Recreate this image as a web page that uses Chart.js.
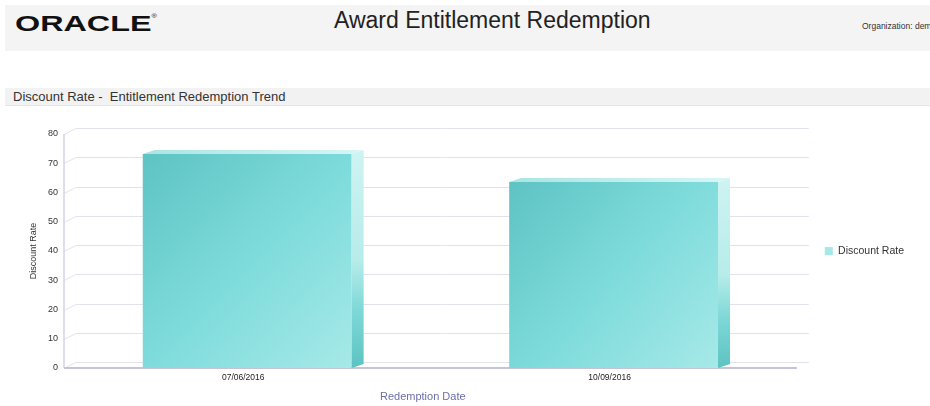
<!DOCTYPE html>
<html>
<head>
<meta charset="utf-8">
<title>Award Entitlement Redemption</title>
<script src="https://cdn.jsdelivr.net/npm/chart.js@4.4.0/dist/chart.umd.min.js"></script>
<style>
  html, body { margin: 0; padding: 0; background: #fff; }
  body { width: 930px; height: 406px; overflow: hidden; position: relative; font-family: "Liberation Sans", Arial, sans-serif; color: #333; }
  .topbar { position: absolute; left: 5px; top: 5px; width: 925px; height: 46px; background: #f4f4f4; }
  .logo { position: absolute; left: 10px; top: 6px; font: bold 22px "Liberation Sans", Arial, sans-serif; color: #111; transform: scaleX(1.47); transform-origin: 0 0; white-space: nowrap; }
  .logo sup { font-size: 5px; font-weight: normal; vertical-align: 13px; }
  .title { position: absolute; left: 334px; top: 7px; font-size: 23px; color: #222; white-space: nowrap; }
  .org { position: absolute; left: 862px; top: 21px; font-size: 8.5px; color: #333; white-space: nowrap; }
  .section { position: absolute; left: 5px; top: 88px; width: 925px; height: 17px; background: #f2f2f2; border-bottom: 1px solid #e6e6e6; }
  .section span { position: absolute; left: 8px; top: 1px; font-size: 13px; color: #333; white-space: pre; }
  #chartBox { position: absolute; left: 0; top: 110px; width: 930px; height: 296px; }
</style>
</head>
<body>
<div class="topbar">
  <div class="logo">ORACLE<sup>®</sup></div>
</div>
<div class="title">Award Entitlement Redemption</div>
<div class="org">Organization: demo</div>
<div class="section"><span>Discount Rate -  Entitlement Redemption Trend</span></div>
<div id="chartBox"><canvas id="rateChart" width="930" height="296"></canvas></div>

<script>
// redemption dates and discount rate per date
const dates = ['07/06/2016', '10/09/2016'];
const discountRate = [73.2, 63.6];
const yTicks = [0, 10, 20, 30, 40, 50, 60, 70, 80];

const BAR_PCT = 0.57;
const DEPTH_X = 12;   // horizontal depth of the 3d box
const WALL_DY = -6;   // rise of the back wall gridlines
const BAR_DY = -4;    // rise of the bar top / side faces
const FLAT_TEAL = '#72d6d5';

// fake 3d: back wall grid, front axes, bar side and top faces
const plot3d = {
  id: 'plot3d',
  beforeDatasetsDraw(chart) {
    const { ctx, chartArea: { left, right }, scales: { y } } = chart;
    ctx.save();
    ctx.lineWidth = 1;
    ctx.strokeStyle = '#e2e2ec';
    yTicks.forEach(v => {
      const py = Math.round(y.getPixelForValue(v)) + 0.5;
      ctx.beginPath();
      ctx.moveTo(left, py);
      ctx.lineTo(left + DEPTH_X, py + WALL_DY);
      ctx.lineTo(right + DEPTH_X, py + WALL_DY);
      ctx.stroke();
    });
    const y0 = y.getPixelForValue(0);
    const yTop = y.getPixelForValue(yTicks[yTicks.length - 1]);
    ctx.strokeStyle = '#d2d2e4';
    ctx.lineWidth = 1.5;
    ctx.beginPath();
    ctx.moveTo(left, yTop);
    ctx.lineTo(left, y0);
    ctx.stroke();
    ctx.strokeStyle = '#c3c3dc';
    ctx.lineWidth = 2;
    ctx.beginPath();
    ctx.moveTo(left, y0);
    ctx.lineTo(right, y0);
    ctx.stroke();
    ctx.restore();
  },
  afterDatasetsDraw(chart) {
    const { ctx } = chart;
    const meta = chart.getDatasetMeta(0);
    ctx.save();
    meta.data.forEach(bar => {
      const { x, y, base, width } = bar.getProps(['x', 'y', 'base', 'width'], true);
      const xl = x - width / 2;
      const xr = x + width / 2;

      // side face
      let g = ctx.createLinearGradient(0, y, 0, base);
      g.addColorStop(0, '#cdf3f2');
      g.addColorStop(0.5, '#b6ecea');
      g.addColorStop(0.72, '#80d9d8');
      g.addColorStop(1, '#5cc3c2');
      ctx.fillStyle = g;
      ctx.beginPath();
      ctx.moveTo(xr, y);
      ctx.lineTo(xr + DEPTH_X, y + BAR_DY);
      ctx.lineTo(xr + DEPTH_X, base + BAR_DY);
      ctx.lineTo(xr, base);
      ctx.closePath();
      ctx.fill();

      // top face
      g = ctx.createLinearGradient(xl, 0, xr + DEPTH_X, 0);
      g.addColorStop(0, '#a8e5e4');
      g.addColorStop(1, '#d8f6f5');
      ctx.fillStyle = g;
      ctx.beginPath();
      ctx.moveTo(xl, y);
      ctx.lineTo(xl + DEPTH_X, y + BAR_DY);
      ctx.lineTo(xr + DEPTH_X, y + BAR_DY);
      ctx.lineTo(xr, y);
      ctx.closePath();
      ctx.fill();
    });
    ctx.restore();
  }
};

// diagonal gradient on the front face of each bar
function frontFace(c) {
  const chart = c.chart;
  const { x, y } = chart.scales;
  if (c.type !== 'data' || !x || !y) return FLAT_TEAL;
  const cx = x.getPixelForValue(c.dataIndex);
  const half = x.width / dates.length * BAR_PCT / 2;
  const top = y.getPixelForValue(c.raw);
  const bottom = y.getPixelForValue(0);
  if (![cx, half, top, bottom].every(Number.isFinite)) return FLAT_TEAL;
  const g = chart.ctx.createLinearGradient(cx - half, top, cx + half, bottom);
  g.addColorStop(0, '#5ec3c3');
  g.addColorStop(0.5, '#7edbdb');
  g.addColorStop(1, '#a6e9e8');
  return g;
}

Chart.defaults.font.family = '"Liberation Sans", Arial, sans-serif';
Chart.defaults.color = '#333';

new Chart(document.getElementById('rateChart'), {
  type: 'bar',
  data: {
    labels: dates,
    datasets: [{
      label: 'Discount Rate',
      data: discountRate,
      backgroundColor: frontFace,
      borderWidth: 0,
      barPercentage: BAR_PCT,
      categoryPercentage: 1
    }]
  },
  options: {
    responsive: false,
    animation: false,
    devicePixelRatio: 1,
    layout: { padding: { top: 24, right: 16, bottom: 0, left: 0 } },
    plugins: {
      legend: {
        position: 'right',
        fullSize: false,
        labels: {
          boxWidth: 8,
          boxHeight: 8,
          padding: 28,
          color: '#333',
          font: { size: 10.5 }
        }
      },
      tooltip: { enabled: false }
    },
    scales: {
      x: {
        grid: { display: false, drawTicks: false },
        border: { display: false },
        ticks: { padding: 5, labelOffset: -4, color: '#222', font: { size: 8.5 } },
        title: {
          display: true,
          // trailing spaces nudge the centred title a little to the left
          text: 'Redemption Date     ',
          color: '#6c70a8',
          font: { size: 11 },
          padding: { top: 0, bottom: 2 }
        },
        afterFit(s) { s.height = 38; }
      },
      y: {
        min: 0,
        max: 80,
        grid: { display: false, drawTicks: false },
        border: { display: false },
        ticks: { stepSize: 10, padding: 6, color: '#333', font: { size: 9 } },
        title: {
          display: true,
          text: 'Discount Rate',
          color: '#333',
          font: { size: 9 },
          padding: { top: 28, bottom: 0 }
        },
        afterFit(s) { s.width = 64; }
      }
    }
  },
  plugins: [plot3d]
});
</script>
</body>
</html>
